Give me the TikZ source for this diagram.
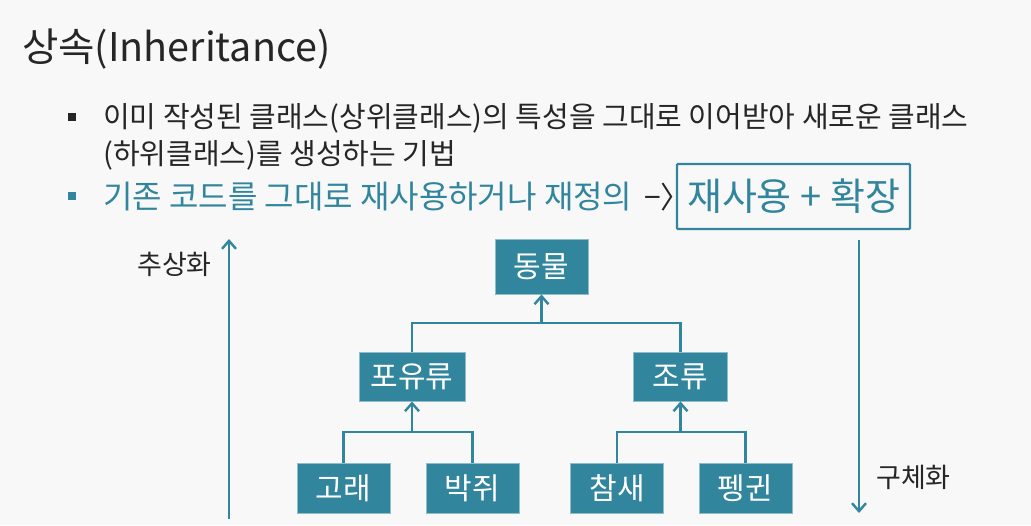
\documentclass[tikz,border=0pt]{standalone}
\usepackage{fontspec}
\setmainfont{Noto Sans CJK KR}
\usetikzlibrary{
    arrows.meta,  % For arrow tips
    positioning   % For relative placement
}
\definecolor{aqua}{HTML}{31859C}
\definecolor{ink}{HTML}{262626}
\definecolor{paper}{HTML}{F8F8F8}

\begin{document}
\begin{tikzpicture}[
    x=1pt, y=-1pt, % one unit = one pixel of the slide
    >={Straight Barb[length=8pt, width=14pt]}, % open arrow tip
    cls/.style={fill=aqua, draw=aqua!55!white, line width=0.8pt, text=white,
        inner sep=0pt, font=\fontsize{30}{34}\selectfont}, % class boxes
    link/.style={aqua, line width=2.4pt}, % tree lines
    inh/.style={link, ->},                % line into the parent
    axis/.style={aqua, line width=2.4pt, ->}, % long side arrows
    txt/.style={text=ink, anchor=west, inner sep=0pt},
    lbl/.style={text=ink, font=\fontsize{27}{30}\selectfont, inner sep=0pt}
]

    % Slide background
    \fill[paper] (0,0) rectangle (1031,525);
    \useasboundingbox (0,0) rectangle (1031,525);

    % Title
    \node[txt, font=\fontsize{39.5}{44}\selectfont] (title) at (22,49) {상속(Inheritance)};

    % Bullets
    \fill[ink] (68,113) rectangle (76,121);
    \node[txt, font=\fontsize{29}{38}\selectfont] (line1) at (103,118)
        {이미 작성된 클래스(상위클래스)의 특성을 그대로 이어받아 새로운 클래스};
    \node[txt, font=\fontsize{29}{38}\selectfont] (line2) at (103,155)
        {(하위클래스)를 생성하는 기법};
    \fill[aqua] (68,192) rectangle (76,200);
    \node[txt, text=aqua, font=\fontsize{32}{38}\selectfont] (line3) at (103,197)
        {기존 코드를 그대로 재사용하거나 재정의};
    \node[txt, font=\fontsize{30}{38}\selectfont] (goes) at (644,197) {−〉};
    \node[draw=aqua, line width=2.4pt, rounded corners=1pt, text=aqua,
        font=\fontsize{38}{44}\selectfont, minimum width=233pt, minimum height=65pt,
        inner sep=0pt] (reuse) at (793.5,196.5) {재사용 + 확장};

    % Class boxes
    \node[cls, minimum width=93pt, minimum height=55pt] (dongmul) at (541.5,266.5) {동물};
    \node[cls, minimum width=106pt, minimum height=49pt] (poyu) at (412,376.5) {포유류};
    \node[cls, minimum width=94pt, minimum height=49pt] (jo) at (680.5,376.5) {조류};
    \node[cls, minimum width=93pt, minimum height=50pt] (gorae) at (343.5,488) {고래};
    \node[cls, minimum width=93pt, minimum height=50pt] (bakjwi) at (472.5,488) {박쥐};
    \node[cls, minimum width=93pt, minimum height=50pt] (chamsae) at (617,488) {참새};
    \node[cls, minimum width=93pt, minimum height=50pt] (penguin) at (745.5,488) {펭귄};

    % Junctions
    \coordinate (jtop) at (541.5,323);
    \coordinate (jmam) at (412,432);
    \coordinate (jbird) at (680.5,432);

    \draw[link] (poyu.north) |- (jtop) -| (jo.north);
    \draw[inh] (jtop) -- (dongmul.south);
    \draw[link] (gorae.north) |- (jmam) -| (bakjwi.north);
    \draw[inh] (jmam) -- (poyu.south);
    \draw[link] (chamsae.north) |- (jbird) -| (penguin.north);
    \draw[inh] (jbird) -- (jo.south);

    % Abstraction / concretion arrows
    \coordinate (upfoot) at (229,519);
    \coordinate (uphead) at (229,239);
    \coordinate (downtop) at (859,240);
    \coordinate (downhead) at (859,513);
    \draw[axis] (upfoot) -- (uphead);
    \draw[axis] (downtop) -- (downhead);
    \node[lbl] (abstr) at (174.5,264) {추상화};
    \node[lbl] (concr) at (913.5,477) {구체화};

\end{tikzpicture}
\end{document}
